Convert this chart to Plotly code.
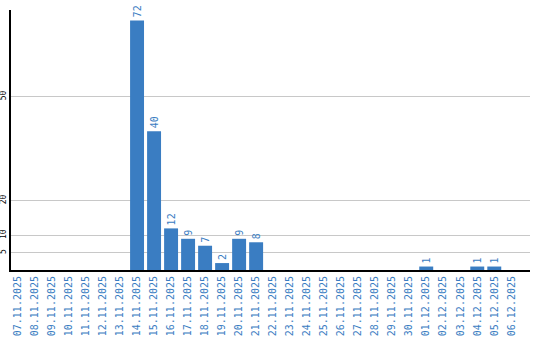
import plotly.graph_objects as go

dates = ["07.11.2025", "08.11.2025", "09.11.2025", "10.11.2025", "11.11.2025", "12.11.2025",
         "13.11.2025", "14.11.2025", "15.11.2025", "16.11.2025", "17.11.2025", "18.11.2025",
         "19.11.2025", "20.11.2025", "21.11.2025", "22.11.2025", "23.11.2025", "24.11.2025",
         "25.11.2025", "26.11.2025", "27.11.2025", "28.11.2025", "29.11.2025", "30.11.2025",
         "01.12.2025", "02.12.2025", "03.12.2025", "04.12.2025", "05.12.2025", "06.12.2025"]
values = [0, 0, 0, 0, 0, 0, 0, 72, 40, 12, 9, 7, 2, 9, 8, 0, 0, 0, 0, 0, 0, 0, 0, 0,
          1, 0, 0, 1, 1, 0]
ytick_vals = [5, 10, 20, 50]

blue = "#3A7DC2"
labels = [str(v) if v else "" for v in values]

fig = go.Figure(go.Bar(
    x=list(range(len(dates))), y=values, marker_color=blue, marker_line_width=0,
    text=labels, textposition="outside", textangle=-90, constraintext="none",
    cliponaxis=False,
    textfont=dict(family="DejaVu Sans Mono", size=10, color=blue),
))
fig.update_layout(
    width=540, height=340, margin=dict(l=11, r=10, t=10, b=70),
    plot_bgcolor="white", paper_bgcolor="white", showlegend=False, bargap=0.18,
)
fig.update_xaxes(
    tickmode="array", tickvals=list(range(len(dates))), ticktext=dates, tickangle=-90,
    range=[-0.41, 30.1], showgrid=False, showline=True, linecolor="black", linewidth=2,
    ticks="", automargin=False,
    tickfont=dict(family="DejaVu Sans Mono", size=10, color=blue),
)
fig.update_yaxes(
    tickmode="array", tickvals=ytick_vals, range=[0, 75], tickangle=-90,
    showgrid=True, gridcolor="#c8c8c8", gridwidth=1, zeroline=False,
    showline=True, linecolor="black", linewidth=2, ticks="", automargin=False,
    tickfont=dict(family="DejaVu Sans Mono", size=8, color="black"),
)
fig.write_html("out.html")
